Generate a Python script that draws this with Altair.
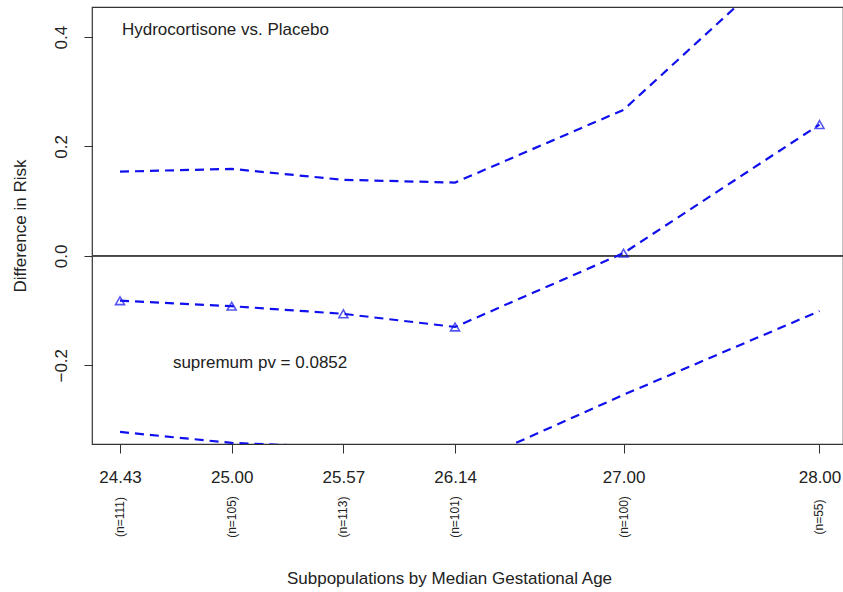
import altair as alt
import pandas as pd

# ---- data ----
age = [24.43, 25.00, 25.57, 26.14, 27.00, 28.00]
n_labels = ["(n=111)", "(n=105)", "(n=113)", "(n=101)", "(n=100)", "(n=55)"]
estimate = [-0.082, -0.092, -0.106, -0.130, 0.005, 0.240]
upper = [0.154, 0.159, 0.139, 0.134, 0.267, 0.596]
lower = [-0.322, -0.342, -0.350, -0.392, -0.254, -0.101]

y_ticks = [-0.2, 0.0, 0.2, 0.4]
ann_text = ["Hydrocortisone vs. Placebo", "supremum pv = 0.0852"]
ann_x = [24.44, 24.70]
ann_y = [0.413, -0.196]

df = pd.DataFrame({"age": age, "n": n_labels, "est": estimate,
                   "upper": upper, "lower": lower})
ann = pd.DataFrame({"text": ann_text, "x": ann_x, "y": ann_y})

FONT = "Liberation Sans"
BLUE = "#1010ee"
W, H = 751, 437
FS = 17

xscale = alt.Scale(domain=[24.287, 28.12], nice=False, zero=False)
yscale = alt.Scale(domain=[-0.344, 0.455], nice=False, zero=False)

xaxis = alt.Axis(values=age, format=".2f", grid=False, domain=False,
                 tickSize=9, tickColor="#333", labelFontSize=FS, labelFont=FONT,
                 labelColor="#222", labelPadding=16, labelFlush=False,
                 title="Subpopulations by Median Gestational Age",
                 titleFont=FONT, titleFontSize=FS, titleFontWeight="normal",
                 titleColor="#222", titleBaseline="middle", titleY=134,
                 titleX=357, titleAlign="center")
yaxis = alt.Axis(values=y_ticks, format=".1f", grid=False, domain=False,
                 tickSize=8, tickColor="#333", labelFontSize=FS, labelFont=FONT,
                 labelColor="#222", labelAngle=270, labelAlign="center",
                 labelBaseline="bottom", labelPadding=14, labelFlush=False,
                 title="Difference in Risk", titleFont=FONT, titleFontSize=FS,
                 titleFontWeight="normal", titleColor="#222",
                 titleX=-72, titleY=H / 2, titleBaseline="middle",
                 titleAlign="center", titleAngle=270)

base = alt.Chart(df)

zero_rule = base.mark_rule(color="#444", strokeWidth=1).encode(
    y=alt.datum(0, scale=yscale, axis=yaxis, type="quantitative")
)

lines = base.transform_fold(["upper", "est", "lower"], as_=["series", "val"]).mark_line(
    color=BLUE, strokeWidth=2.2, strokeDash=[9, 6], clip=True
).encode(
    x=alt.X("age:Q", scale=xscale, axis=xaxis),
    y=alt.Y("val:Q", scale=yscale, axis=yaxis),
    detail="series:N",
)

points = base.mark_point(shape="triangle-up", filled=False, color=BLUE,
                         strokeWidth=1.6, size=80).encode(
    x=alt.X("age:Q", scale=xscale, axis=xaxis),
    y=alt.Y("est:Q", scale=yscale, axis=yaxis),
)

ntext = base.mark_text(angle=270, align="center", baseline="middle",
                       fontSize=12, font=FONT, color="#222").encode(
    x=alt.X("age:Q", scale=xscale, axis=xaxis),
    y=alt.value(H + 73),
    text="n:N",
)

annot = alt.Chart(ann).mark_text(align="left", baseline="middle", fontSize=FS,
                                 font=FONT, color="#222").encode(
    x=alt.X("x:Q", scale=xscale, axis=xaxis),
    y=alt.Y("y:Q", scale=yscale, axis=yaxis),
    text="text:N",
)

chart = alt.layer(zero_rule, lines, points, ntext, annot).properties(
    width=W, height=H,
    padding={"left": 92, "top": 7, "right": 0, "bottom": 148},
    autosize="none",
    background="white",
).configure_view(stroke="#333", strokeWidth=1.2)

chart.save("out.html", embed_options={"renderer": "svg", "actions": False})
